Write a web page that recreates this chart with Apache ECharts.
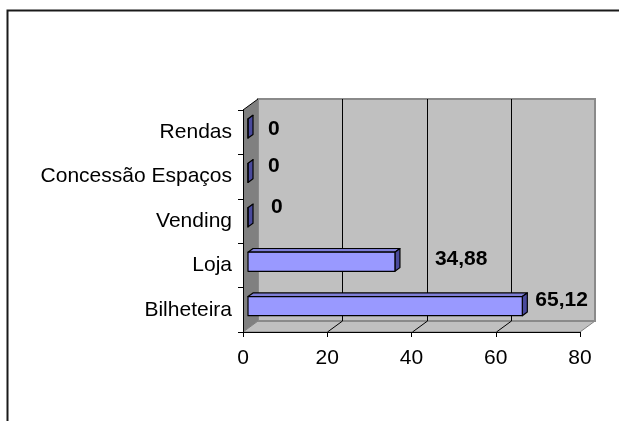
<!DOCTYPE html>
<html>
<head>
<meta charset="utf-8">
<script src="https://cdn.jsdelivr.net/npm/echarts@6/dist/echarts.min.js"></script>
<style>
  html, body { margin: 0; padding: 0; background: #fff; }
  #chart { width: 619px; height: 421px; }
</style>
</head>
<body>
<div id="chart"></div>
<script>
// Revenue share by source (%), listed bottom to top
const categories = ['Bilheteira', 'Loja', 'Vending', 'Concessão Espaços', 'Rendas'];
const revenueShare = [65.12, 34.88, 0, 0, 0];
const axisTicks = [0, 20, 40, 60, 80];

const FONT = '"Liberation Sans", Arial, Helvetica, sans-serif';
// Oblique projection of the chart box depth
const DX = 15, DY = -11;
// Bars sit in the middle third of the depth
const BAR_F = 1 / 3, BAR_B = 2 / 3;
// Per-bar placement of the value labels (px, from the bar end)
const LABEL_NUDGE = [[13, -5.5], [40, -3], [23, -10], [20, -7], [20, 0.5]];

const fmt = v => String(v).replace('.', ',');

const chart = echarts.init(document.getElementById('chart'), null, { renderer: 'canvas' });

function renderWalls(params, api) {
  const cs = params.coordSys;
  const x0 = cs.x, y0 = cs.y, w = cs.width, h = cs.height;
  const children = [];
  // floor
  children.push({
    type: 'polygon',
    shape: { points: [[x0, y0 + h], [x0 + DX, y0 + h + DY], [x0 + w + DX, y0 + h + DY], [x0 + w, y0 + h]] },
    style: { fill: '#c0c0c0', stroke: '#808080', lineWidth: 1 }
  });
  // back wall
  children.push({
    type: 'rect',
    shape: { x: x0 + DX, y: y0 + DY, width: w, height: h },
    style: { fill: '#c0c0c0', stroke: '#8a8a8a', lineWidth: 2 }
  });
  // side wall
  children.push({
    type: 'polygon',
    shape: { points: [[x0, y0], [x0 + DX, y0 + DY], [x0 + DX, y0 + h + DY], [x0, y0 + h]] },
    style: { fill: '#808080', stroke: null }
  });
  children.push({
    type: 'line',
    shape: { x1: x0, y1: y0, x2: x0 + DX, y2: y0 + DY },
    style: { stroke: '#000', lineWidth: 1 }
  });
  // gridlines on the back wall and floor
  for (let i = 1; i < axisTicks.length - 1; i++) {
    const px = Math.round(api.coord([axisTicks[i], 0])[0]) + 0.5;
    children.push({
      type: 'polyline',
      shape: { points: [[px + DX, y0 + DY], [px + DX, y0 + h + DY], [px, y0 + h]] },
      style: { fill: null, stroke: '#000', lineWidth: 1 }
    });
  }
  return { type: 'group', children: children };
}

function renderBar(params, api) {
  const idx = api.value(1);
  const val = api.value(0);
  const start = api.coord([0, idx]);
  const end = api.coord([val, idx]);
  const band = api.size([0, 1])[1];
  const bh = band * 0.43;
  const fx = DX * BAR_F, fy = DY * BAR_F;
  const bx = DX * BAR_B, by = DY * BAR_B;
  const xl = start[0] + fx, xr = end[0] + fx;
  const yc = end[1] + fy;
  const yt = yc - bh / 2, yb = yc + bh / 2;
  const ddx = bx - fx, ddy = by - fy;
  const edge = { stroke: '#000', lineWidth: 1.2, lineJoin: 'round' };
  const nudge = LABEL_NUDGE[params.dataIndex] || [10, 0];
  return {
    type: 'group',
    children: [
      { type: 'polygon',
        shape: { points: [[xl, yt], [xr, yt], [xr + ddx, yt + ddy], [xl + ddx, yt + ddy]] },
        style: Object.assign({ fill: '#7e7ed6' }, edge) },
      { type: 'polygon',
        shape: { points: [[xr, yt], [xr + ddx, yt + ddy], [xr + ddx, yb + ddy], [xr, yb]] },
        style: Object.assign({ fill: '#4a4a9c' }, edge) },
      { type: 'rect',
        shape: { x: xl, y: yt, width: xr - xl, height: bh },
        style: Object.assign({ fill: '#9999ff' }, edge) },
      { type: 'text',
        style: {
          x: xr + nudge[0], y: yc + nudge[1],
          text: fmt(val),
          fill: '#000',
          fontSize: 21, fontWeight: 'bold', fontFamily: FONT,
          align: 'left', verticalAlign: 'middle'
        } }
    ]
  };
}

chart.setOption({
  animation: false,
  backgroundColor: '#fff',
  grid: { left: 243, top: 110, width: 337, height: 222, containLabel: false },
  xAxis: {
    type: 'value',
    min: axisTicks[0],
    max: axisTicks[axisTicks.length - 1],
    interval: axisTicks[1] - axisTicks[0],
    axisLine: { show: true, lineStyle: { color: '#000', width: 1 } },
    axisTick: { show: true, length: 5, lineStyle: { color: '#000' } },
    splitLine: { show: false },
    axisLabel: { color: '#000', fontSize: 21, fontFamily: FONT, margin: 16 }
  },
  yAxis: {
    type: 'category',
    data: categories,
    axisLine: { show: true, lineStyle: { color: '#000', width: 1 } },
    axisTick: { show: true, length: 5, lineStyle: { color: '#000' } },
    splitLine: { show: false },
    axisLabel: { color: '#000', fontSize: 21, fontFamily: FONT, margin: 11 }
  },
  graphic: [{
    type: 'rect',
    shape: { x: 7.5, y: 10.5, width: 800, height: 600 },
    style: { fill: 'none', stroke: '#1a1a1a', lineWidth: 2 },
    silent: true
  }],
  series: [
    {
      type: 'custom',
      name: 'walls',
      z: -1,
      silent: true,
      renderItem: renderWalls,
      data: [[0, 0]]
    },
    {
      type: 'custom',
      name: 'share',
      z: 3,
      renderItem: renderBar,
      encode: { x: 0, y: 1 },
      data: revenueShare.map((v, i) => [v, i])
    }
  ]
});
</script>
</body>
</html>
